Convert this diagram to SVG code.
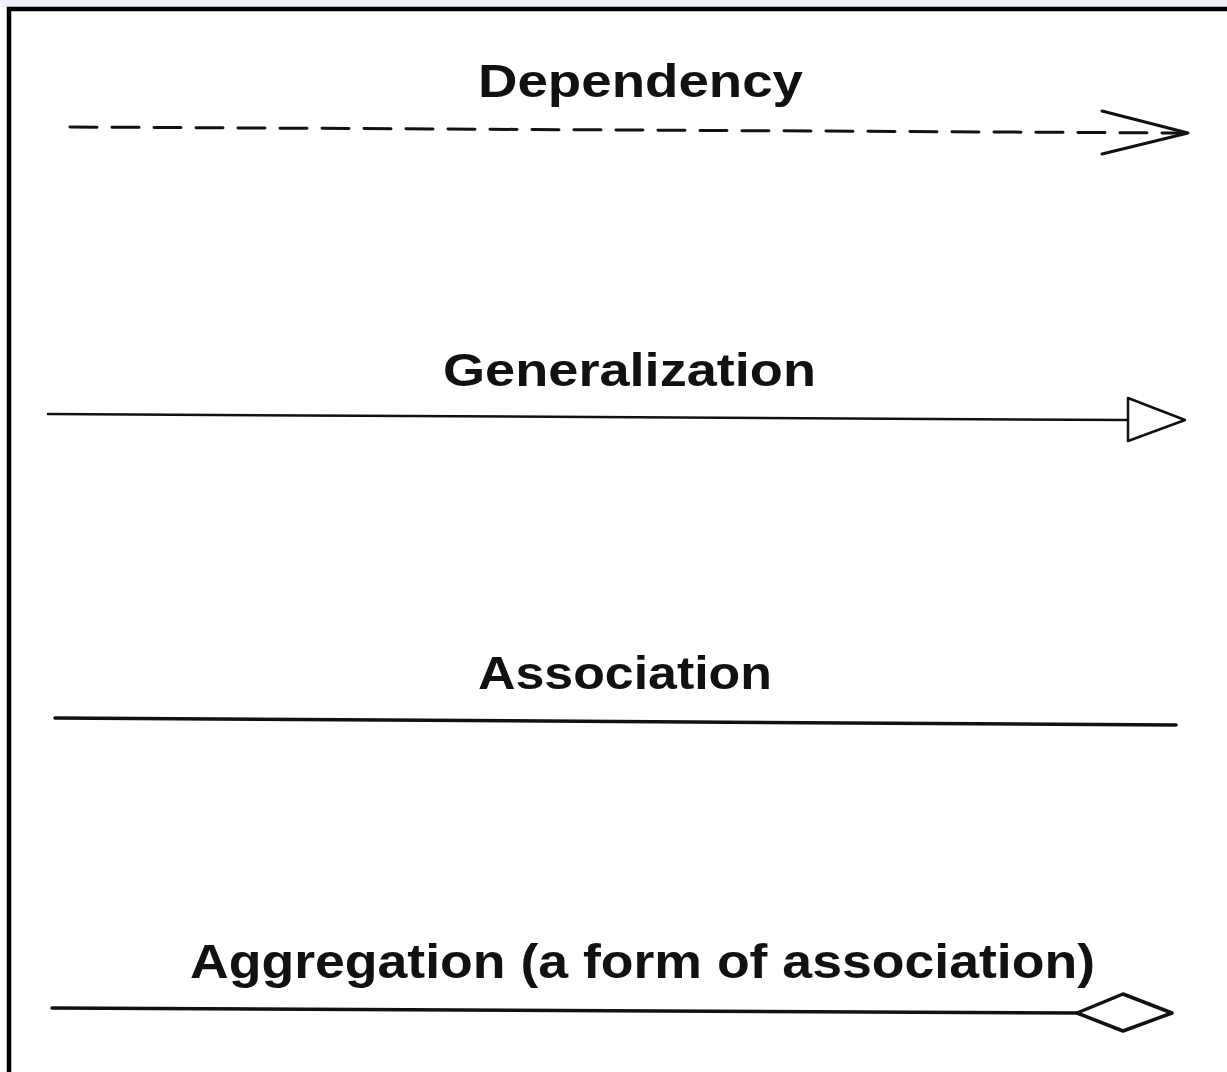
<svg xmlns="http://www.w3.org/2000/svg" width="1227" height="1072" viewBox="0 0 1227 1072">
<style>
.lbl{font-family:"Liberation Sans",Arial,sans-serif;font-weight:bold;font-size:47px;fill:#111}
.ln{fill:none;stroke:#111;stroke-linecap:round;stroke-linejoin:round}
</style>
<rect x="0" y="0" width="1227" height="1072" fill="#fff"/>
<rect x="0" y="0" width="1227" height="7" fill="#eef0f5"/>
<path d="M9 1072 V9 H1227" fill="none" stroke="#000" stroke-width="4.5"/>
<g id="dependency">
<text class="lbl" x="478" y="97" textLength="325" lengthAdjust="spacingAndGlyphs">Dependency</text>
</g>
<g id="generalization">
<text class="lbl" x="443" y="386" textLength="373" lengthAdjust="spacingAndGlyphs">Generalization</text>
</g>
<g id="association">
<text class="lbl" x="478" y="689" textLength="294" lengthAdjust="spacingAndGlyphs">Association</text>
</g>
<g id="aggregation">
<text class="lbl" x="190" y="978" textLength="905" lengthAdjust="spacingAndGlyphs" style="font-size:49px">Aggregation (a form of association)</text>
</g>
<g id="connectors">
<path class="ln" d="M70 127 L1180 133" stroke-width="3" stroke-dasharray="27 15" stroke-linecap="butt"/>
<path class="ln" d="M1102 111 L1188 133 L1102 154" stroke-width="3"/>
<path class="ln" d="M48 414 L1128 420" stroke-width="2.5"/>
<path class="ln" d="M1128 398 L1185 420 L1128 441 Z" stroke-width="2.5" fill="#fff"/>
<path class="ln" d="M55 718 L1176 725" stroke-width="3.5"/>
<path class="ln" d="M52 1008 L1077 1013" stroke-width="3.5"/>
<path class="ln" d="M1077 1013 L1123 994 L1172 1013 L1123 1031 Z" stroke-width="3.5" fill="#fff"/>
</g>
</svg>
